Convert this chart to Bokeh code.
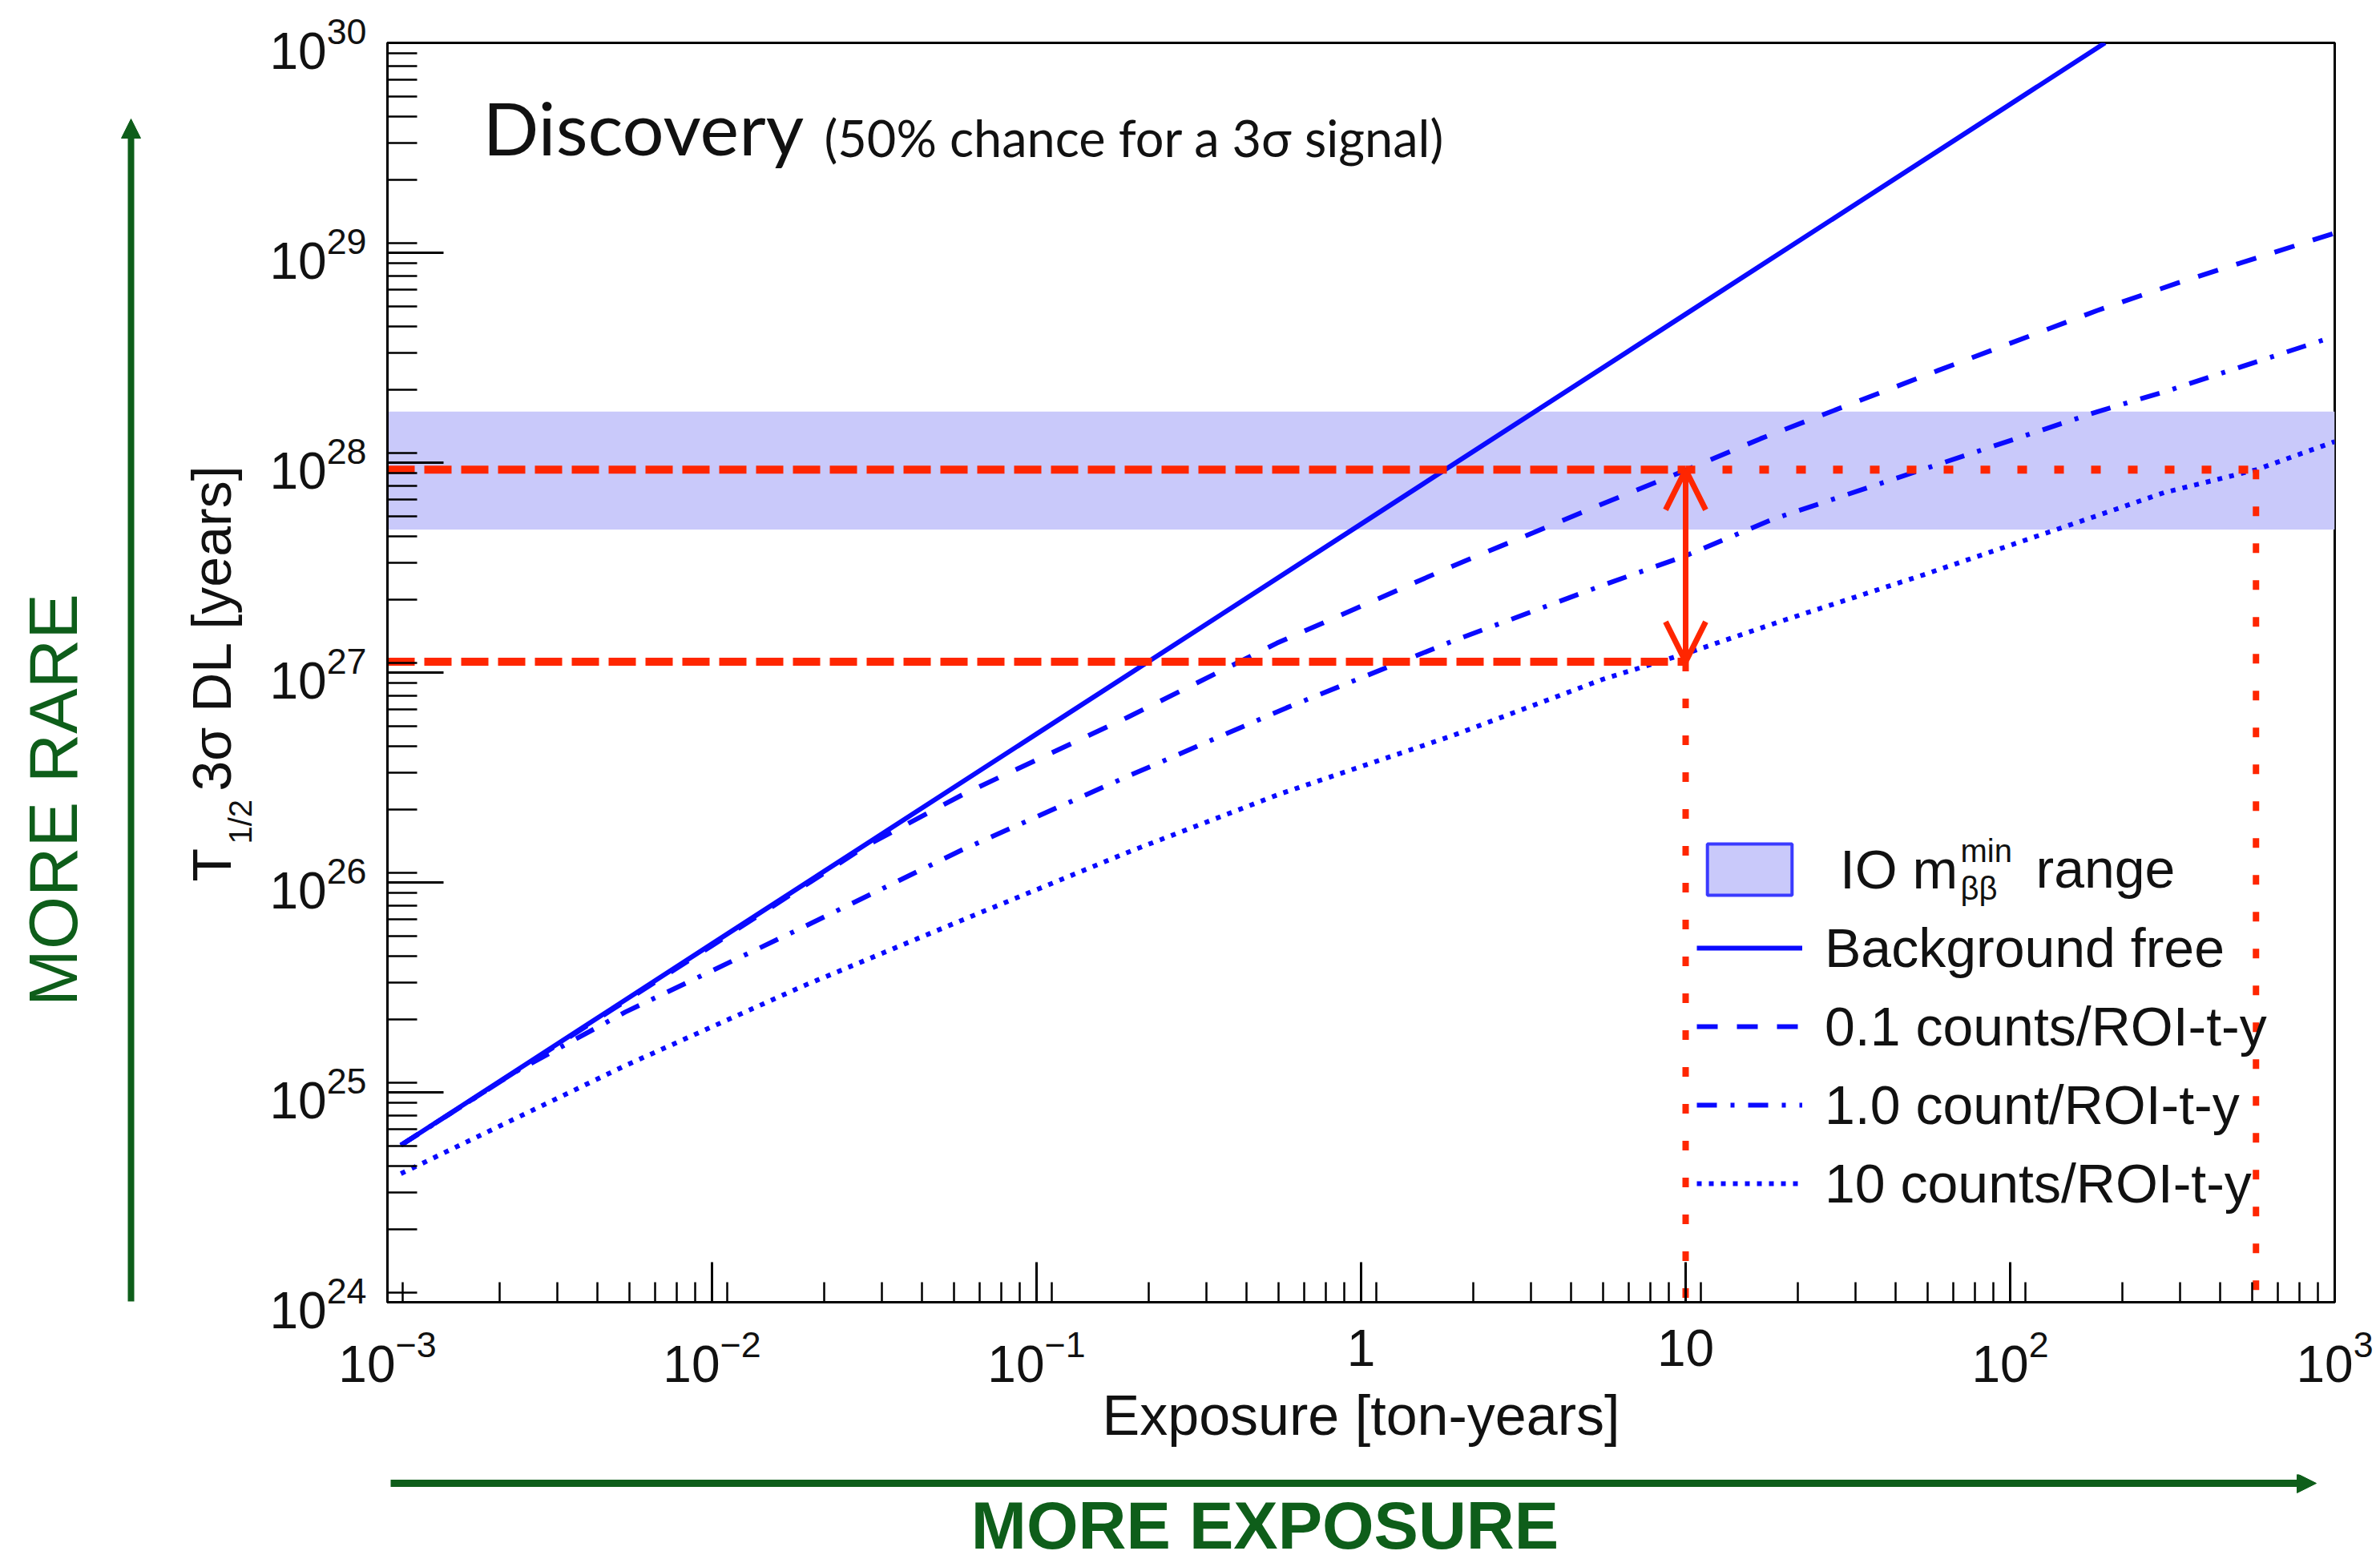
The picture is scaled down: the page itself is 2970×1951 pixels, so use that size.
import numpy as np
from bokeh.plotting import figure
from bokeh.layouts import column, row
from bokeh.models import (Range1d, LogTicker, Label, Arrow, OpenHead, NormalHead,
                          Legend, LegendItem, ColumnDataSource)
from bokeh.embed import file_html
from bokeh.resources import INLINE

# ---------------- data ----------------
x_limits = [1e-3, 1e3]
y_limits = [1e24, 1e30]

exp_bf = [1.1e-3, 1e-2, 1e-1, 1.0, 10.0, 100.0, 196.0]
t_bf = [5.6e24, 5.1e25, 5.1e26, 5.1e27, 5.1e28, 5.1e29, 1.0e30]

exp_b01 = [1.1e-3, 0.01, 0.03, 0.06, 0.19, 0.55, 1.9, 5.6, 10, 17, 60, 185, 330, 1000]
t_b01 = [5.6e24, 5.0e25, 1.5e26, 2.65e26, 6.1e26, 1.38e27, 3.2e27, 6.4e27, 9.2e27,
         1.3e28, 2.75e28, 5.3e28, 7.2e28, 1.24e29]

exp_b1 = [1.1e-3, 0.0025, 0.0054, 0.019, 0.059, 0.187, 0.59, 1.91, 5.57, 10, 18.7, 54, 186, 303, 1000]
t_b1 = [5.6e24, 1.26e25, 2.41e25, 6.1e25, 1.43e26, 3.16e26, 6.8e26, 1.41e27, 2.61e27,
        3.6e27, 5.4e27, 9.3e27, 1.75e28, 2.19e28, 4.0e28]

exp_b10 = [1.1e-3, 0.0054, 0.019, 0.056, 0.195, 0.566, 1.91, 5.57, 10, 19.1, 54, 186, 298, 573, 1000]
t_b10 = [4.1e24, 1.34e25, 3.2e25, 6.4e25, 1.41e26, 2.65e26, 5.0e26, 9.3e26, 1.23e27,
         1.73e27, 2.92e27, 5.6e27, 7.2e27, 9.25e27, 1.26e28]

band_lo = [4.8e27]
band_hi = [1.75e28]

guide_t = [9.25e27, 1.125e27]      # red horizontal guide levels
guide_x = [10.0, 572.0]            # red vertical guide positions

legend_labels = ["\u00a0IO m", "Background free", "0.1 counts/ROI-t-y",
                 "1.0 count/ROI-t-y", "10 counts/ROI-t-y"]

BLUE = "#0a0aff"
RED = "#ff2600"
GREEN = "#0e5e1a"
BAND = "#c9c9fa"
INK = "#111111"

# page geometry (pixels in the 2970x1951 page)
W, H = 2970, 1951
LEFT_W = 320          # width of left strip
MAIN_H = 1840         # height of top row
FL, FR, FT, FB = 483, 2913, 53, 1625   # frame edges in page pixels


def sx(X):
    return X - FL


def sy(Y):
    return FB - Y


# ---------------- main chart ----------------
p = figure(width=W - LEFT_W, height=MAIN_H, x_axis_type="log", y_axis_type="log",
           x_range=Range1d(*x_limits), y_range=Range1d(*y_limits),
           output_backend="svg", toolbar_location=None,
           min_border_left=FL - LEFT_W, min_border_right=W - FR,
           min_border_top=FT, min_border_bottom=MAIN_H - FB)
p.grid.visible = False
p.background_fill_color = "white"
p.border_fill_color = "white"
p.outline_line_color = "black"
p.outline_line_width = 3

for ax in (p.xaxis[0], p.yaxis[0]):
    ax.axis_line_width = 3
    ax.major_tick_line_width = 3
    ax.minor_tick_line_width = 2.5
    ax.major_tick_out = 0
    ax.minor_tick_out = 0
    ax.major_label_text_font = "Liberation Sans"
    ax.major_label_text_font_size = "64px"
    ax.major_label_text_color = INK
    ax.ticker = LogTicker(num_minor_ticks=9)

p.yaxis.major_tick_in = 70
p.yaxis.minor_tick_in = 37
p.xaxis.major_tick_in = 50
p.xaxis.minor_tick_in = 25
p.xaxis.major_label_overrides = {1: "1", 10: "10"}
p.xaxis.major_label_standoff = 34
p.yaxis.major_label_standoff = 26
p.xaxis.axis_label = "Exposure [ton-years]"
p.xaxis.axis_label_text_font = "Liberation Sans"
p.xaxis.axis_label_text_font_size = "70px"
p.xaxis.axis_label_text_font_style = "normal"
p.xaxis.axis_label_text_color = INK
p.xaxis.axis_label_standoff = 0

# band
band_src = ColumnDataSource(dict(left=[x_limits[0]], right=[x_limits[1]],
                                 bottom=band_lo, top=band_hi))
p.quad(left="left", right="right", bottom="bottom", top="top", source=band_src,
       fill_color=BAND, fill_alpha=1.0, line_alpha=0)
band_leg = p.quad(left="left", right="right", bottom="bottom", top="top", source=band_src,
                  fill_color=BAND, fill_alpha=1.0, line_color="#3a3aff", line_width=4)
band_leg.visible = False

# curves
r_bf = p.line(exp_bf, t_bf, line_color=BLUE, line_width=6)
r_01 = p.line(exp_b01, t_b01, line_color=BLUE, line_width=6, line_dash="26 24")
r_1 = p.line(exp_b1, t_b1, line_color=BLUE, line_width=6, line_dash="25 17 5 17")
r_10 = p.line(exp_b10, t_b10, line_color=BLUE, line_width=6, line_dash="6 9")

# red guide lines
p.line([x_limits[0], guide_x[0]], [guide_t[0], guide_t[0]], line_color=RED, line_width=10,
       line_dash="34 12")
p.line([guide_x[0], guide_x[1]], [guide_t[0], guide_t[0]], line_color=RED, line_width=10,
       line_dash="12 34")
p.line([x_limits[0], guide_x[0]], [guide_t[1], guide_t[1]], line_color=RED, line_width=10,
       line_dash="34 12")
p.line([guide_x[0], guide_x[0]], [guide_t[1], y_limits[0]], line_color=RED, line_width=8,
       line_dash="12 34")
p.line([guide_x[1], guide_x[1]], [guide_t[0], y_limits[0]], line_color=RED, line_width=8,
       line_dash="12 34")

p.add_layout(Arrow(x_start=guide_x[0], y_start=guide_t[1], x_end=guide_x[0], y_end=guide_t[0],
                   line_color=RED, line_width=7,
                   start=OpenHead(size=50, line_color=RED, line_width=7),
                   end=OpenHead(size=50, line_color=RED, line_width=7)))

# legend
legend = Legend(items=[
    LegendItem(label=legend_labels[0], renderers=[band_leg]),
    LegendItem(label=legend_labels[1], renderers=[r_bf]),
    LegendItem(label=legend_labels[2], renderers=[r_01]),
    LegendItem(label=legend_labels[3], renderers=[r_1]),
    LegendItem(label=legend_labels[4], renderers=[r_10]),
], location=(2117 - FL, FB - 1517))
legend.glyph_width = 132
legend.glyph_height = 80
legend.spacing = 18
legend.padding = 0
legend.margin = 0
legend.label_standoff = 28
legend.label_text_font = "Liberation Sans"
legend.label_text_font_size = "68px"
legend.label_text_color = INK
legend.background_fill_alpha = 0
legend.border_line_alpha = 0
p.add_layout(legend)


def lab(fig, text, x, y, size, units="screen", font="Liberation Sans", color=INK,
        style="normal", align="left", angle=0.0):
    fig.add_layout(Label(x=x, y=y, x_units=units, y_units=units, text=text,
                         text_font=font, text_font_size=size, text_color=color,
                         text_font_style=style, text_align=align, text_baseline="middle",
                         angle=angle))


# legend super/subscripts (y = visual middle of the glyphs)
lab(p, "min", sx(2446), sy(1061), "40px")
lab(p, "\u03b2\u03b2", sx(2446), sy(1108), "40px")
lab(p, "range", sx(2540), sy(1083), "68px")

# title text inside the frame
lab(p, "Discovery", sx(602), sy(158), "92px", font="Lato")
lab(p, "(50% chance for a 3\u03c3 signal)", sx(1028), sy(171), "63px", font="Lato")


def strip(width, height, y_span):
    f = figure(width=width, height=height, x_range=Range1d(0, width), y_range=Range1d(*y_span),
               output_backend="svg", toolbar_location=None,
               x_axis_location=None, y_axis_location=None, min_border=0)
    f.min_border_left = 0
    f.min_border_right = 0
    f.min_border_top = 0
    f.min_border_bottom = 0
    f.grid.visible = False
    f.outline_line_color = None
    f.background_fill_color = "white"
    f.border_fill_color = "white"
    return f


# ---------------- left strip: y-axis title and "MORE RARE" ----------------
# its plotting area is aligned by the row with the main frame (page y 53..1625)
left = strip(LEFT_W, MAIN_H, (0, FB - FT))


def ly(Y):
    return FB - Y


lab(left, "T", 263, ly(1100), "68px", units="data", angle=np.pi / 2)
lab(left, "1/2", 299, ly(1053), "40px", units="data", angle=np.pi / 2)
lab(left, "3\u03c3 DL [years]", 263, ly(987), "68px", units="data", angle=np.pi / 2)
lab(left, "MORE RARE", 66, ly(998), "85px", units="data", color=GREEN, align="center",
    angle=np.pi / 2)
left.add_layout(Arrow(x_start=163, y_start=ly(FB - 1), x_end=163, y_end=ly(148),
                      line_color=GREEN, line_width=8,
                      end=NormalHead(size=24, fill_color=GREEN, line_color=GREEN)))

# ---------------- bottom strip: "MORE EXPOSURE" ----------------
BOT_H = H - MAIN_H
bottom = strip(W, BOT_H, (0, BOT_H))


def by(Y):
    return H - Y


bottom.add_layout(Arrow(x_start=487, y_start=by(1851), x_end=2890, y_end=by(1851),
                        line_color=GREEN, line_width=9,
                        end=NormalHead(size=24, fill_color=GREEN, line_color=GREEN)))
lab(bottom, "MORE EXPOSURE", 1578, by(1904), "83px", units="data", color=GREEN,
    style="bold", align="center")

layout = column(row(left, p, spacing=0), bottom, spacing=0)
open("out.html", "w").write(file_html(layout, INLINE))
